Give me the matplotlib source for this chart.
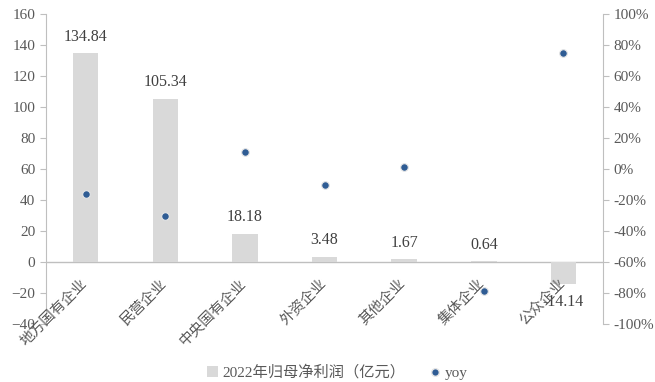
import matplotlib
matplotlib.use("Agg")
import matplotlib.pyplot as plt
from matplotlib.ticker import FuncFormatter
from matplotlib.lines import Line2D
from matplotlib.patches import Patch
from matplotlib.transforms import offset_copy

plt.rcParams['font.family'] = ['Liberation Serif', 'Noto Sans CJK SC', 'DejaVu Sans']

categories = ['地方国有企业', '民营企业', '中央国有企业', '外资企业', '其他企业', '集体企业', '公众企业']
profit = [134.84, 105.34, 18.18, 3.48, 1.67, 0.64, -14.14]
yoy = [-0.16, -0.30, 0.11, -0.10, 0.01, -0.79, 0.75]

bar_color = '#D9D9D9'
dot_color = '#2F5C94'
text_color = '#595959'
axis_color = '#BFBFBF'

fig = plt.figure(figsize=(6.55, 3.82), dpi=100)
ax = fig.add_axes([0.070, 0.152, 0.851, 0.811])
ax2 = ax.twinx()

x = list(range(len(categories)))
ax.bar(x, profit, width=0.32, color=bar_color, zorder=2)
ax.axhline(0, color=axis_color, lw=1.0, zorder=1)
ax2.scatter(x, yoy, s=30, color=dot_color, edgecolors='#E6E6E6', linewidths=0.8, zorder=3)

ax.set_xlim(-0.5, len(categories) - 0.5)
ax.set_ylim(-40, 160)
ax.set_yticks(range(-40, 161, 20))
ax2.set_ylim(-1, 1)
ax2.set_yticks([i / 10 for i in range(-10, 11, 2)])
ax2.yaxis.set_major_formatter(FuncFormatter(lambda v, p: f'{v * 100:.0f}%'))

for a in (ax, ax2):
    for s in ('top', 'bottom'):
        a.spines[s].set_visible(False)
ax.spines['right'].set_visible(False)
ax2.spines['left'].set_visible(False)
ax.spines['left'].set_color(axis_color)
ax2.spines['right'].set_color(axis_color)
ax.set_xticks([])
ax.tick_params(axis='y', colors=axis_color, labelcolor=text_color, labelsize=11, length=4, direction='out')
ax2.tick_params(axis='y', colors=axis_color, labelcolor=text_color, labelsize=11, length=4, direction='out')

# value labels on the bars
for xi, v in zip(x, profit):
    if v >= 0:
        ax.annotate(f'{v:.2f}', (xi, v), xytext=(0, 6), textcoords='offset points',
                    ha='center', va='bottom', fontsize=11.5, color='#404040')
    else:
        ax.annotate(f'{v:.2f}', (xi, v), xytext=(0, -7), textcoords='offset points',
                    ha='center', va='top', fontsize=11.5, color='#404040')

# rotated category names hanging from the zero line
for xi, name in zip(x, categories):
    tr = offset_copy(ax.transData, fig=fig, x=4, y=-14, units='dots')
    ax.text(xi, 0, name, transform=tr, rotation=45, ha='right', va='top',
            fontsize=10.5, color=text_color, family=['Noto Sans CJK SC'], fontweight='light')

handles = [Patch(facecolor=bar_color, edgecolor='none'),
           Line2D([], [], marker='o', ls='none', markersize=5.5, markerfacecolor=dot_color,
                  markeredgecolor='#E6E6E6')]
labels = ['2022年归母净利润（亿元）', 'yoy']
fig.legend(handles, labels, loc='center', bbox_to_anchor=(0.515, 0.025), ncol=2, frameon=False,
           handlelength=0.7, handleheight=0.7, handletextpad=0.3, columnspacing=1.6,
           labelcolor=text_color, prop={'family': ['Liberation Serif', 'Noto Sans CJK SC'], 'size': 11})

fig.savefig('out.png', dpi=100)
